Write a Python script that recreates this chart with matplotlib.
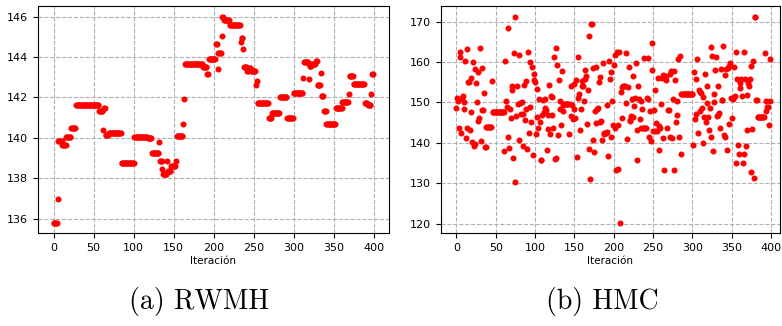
import numpy as np
import matplotlib
matplotlib.use("Agg")
import matplotlib.pyplot as plt

# cadena RWMH (valores constantes por tramos: valor y numero de iteraciones)
rwmh_values = [135.8, 137.0, 139.85, 139.65, 140.05, 140.5, 141.6, 141.35, 140.4, 141.5,
               140.15, 140.22, 138.75, 140.02, 139.98, 139.25, 139.8, 138.85, 138.45, 138.2,
               138.85, 138.35, 138.6, 138.85, 140.1, 140.7, 141.9, 143.63, 143.5, 143.18,
               143.9, 144.65, 143.42, 144.2, 145.05, 146.0, 145.85, 145.58, 144.73, 144.92,
               144.38, 143.52, 143.3, 143.47, 143.3, 142.6, 142.8, 141.7, 140.98, 141.22,
               142.02, 141.0, 142.23, 142.97, 143.73, 142.93, 143.57, 143.67, 143.8, 142.6,
               143.23, 142.05, 141.32, 140.7, 141.48, 141.79, 142.17, 143.06, 142.67, 141.73,
               141.6, 142.18, 143.18]
rwmh_counts = [5, 1, 5, 5, 6, 6, 29, 5, 1, 2,
               4, 16, 16, 17, 5, 9, 1, 3, 1, 5,
               1, 4, 6, 1, 8, 1, 1, 23, 5, 2,
               9, 2, 1, 4, 1, 2, 7, 14, 1, 2,
               1, 4, 2, 3, 6, 1, 1, 14, 4, 10,
               9, 8, 12, 1, 6, 1, 3, 5, 2, 4,
               1, 3, 3, 12, 8, 8, 1, 5, 14, 4,
               4, 1, 2]

# cadena HMC
hmc_values = (
    [148.6, 151.1, 150.4, 143.8, 162.5, 161.2, 142.4, 151.1, 151.7, 150.1,
     148.5, 160.2, 141.3, 163.3, 143.8, 155.0, 155.0, 143.3, 147.6, 156.1,
     140.1, 160.0, 139.3, 158.4, 139.6, 154.9, 150.1, 157.5, 145.5, 146.2,
     163.5, 140.5, 158.6, 148.1, 148.2, 152.3, 138.9, 138.9, 144.0, 144.0]
    + [144.0] * 5 + [155.4] + [147.6] * 15
    + [138.1, 160.3, 150.4, 149.0, 141.5, 168.4, 138.7, 148.5, 146.2,
       153.0, 154.2, 136.2, 162.3, 130.4, 171.3, 146.7, 154.0, 149.6, 161.8,
       140.6, 149.8, 147.2, 150.0, 139.3, 147.1, 154.4, 145.7, 148.5, 155.4,
       138.6, 162.5, 142.4, 148.9, 160.1, 145.2, 158.9, 137.0, 157.0, 155.5,
       155.1, 142.3, 146.5, 153.4, 143.6, 150.9, 145.2, 135.8, 135.8, 146.8,
       150.7, 147.6, 150.9, 148.6, 148.2, 138.2, 147.0, 143.5, 154.4, 142.3,
       151.7, 147.0, 151.4, 143.8, 161.3, 136.0, 163.5, 136.3, 159.4, 141.9,
       155.6, 150.3, 148.5, 144.4, 157.9, 149.5, 147.8]
    + [149.6] * 6
    + [142.2, 149.6, 154.1, 146.6, 149.4, 146.0, 154.6,
       148.4, 146.2, 155.6, 136.5, 161.3, 151.0, 152.1, 143.3, 148.5, 155.2,
       154.1, 154.0, 150.4, 155.8, 158.0, 156.5, 144.6, 153.0, 138.6, 166.4,
       131.1, 169.5, 169.5, 140.8, 158.5, 137.7, 147.8, 158.9, 144.8, 148.4,
       148.6, 155.0, 156.3, 145.1, 145.3, 140.6, 159.9, 142.3, 142.4, 142.5,
       142.4, 142.8, 149.4, 136.7, 160.2, 155.9, 141.5, 157.5, 150.3, 144.3,
       159.4, 143.8, 161.8, 133.2, 162.5, 144.5, 133.4, 162.4, 120.2, 152.7,
       153.8, 146.2, 154.0, 154.0, 154.0, 149.9, 162.2, 141.0, 153.8, 158.8,
       145.3, 145.7, 146.6, 150.9, 146.5, 156.5, 149.2, 151.1, 159.9, 135.8,
       143.1, 154.2, 150.9, 146.0, 150.3, 143.8, 148.4, 143.8, 161.0, 143.8,
       143.8, 143.8, 151.1, 150.9, 161.0, 141.5, 148.0, 140.4, 164.7, 158.0,
       142.9, 148.1, 142.9, 153.1, 144.9, 142.9, 156.0, 138.2, 144.1, 143.8,
       149.6, 156.0, 156.7, 141.2, 133.2, 156.0, 156.6, 155.5, 143.8, 148.2,
       148.2, 157.1, 141.5, 157.9, 141.1, 150.9, 157.7, 133.2, 155.6, 145.1,
       147.0, 150.4, 160.8, 141.5, 161.4, 137.3]
    + [152.2] * 15
    + [139.4, 157.5, 145.9, 155.9, 147.2, 160.8, 142.4, 153.2, 152.5,
       147.8, 152.3, 148.6, 140.0, 151.4, 146.4, 157.1, 145.1, 154.0, 149.9,
       146.4, 143.3, 148.6, 163.7, 141.5, 161.4, 137.9, 152.2, 150.0, 158.0,
       161.3, 146.6, 154.2, 147.0, 147.4, 143.7, 158.4, 150.7, 150.5, 163.9,
       141.9, 141.5, 156.9, 158.3, 138.2, 158.5, 159.1, 144.7, 159.8, 151.0,
       146.2, 150.9, 151.1, 158.9, 151.5, 134.9, 162.4, 155.9, 139.4, 137.2,
       153.7, 154.8, 155.8, 151.7, 134.9, 162.4, 137.3, 155.9, 139.3, 143.3,
       151.9, 154.8, 154.2, 155.9, 159.1, 132.9, 143.4, 160.2, 131.4, 171.3,
       171.3, 150.5, 150.5]
    + [146.4] * 9
    + [162.2, 147.8, 150.4, 149.0, 149.0, 144.3, 150.4, 160.8]
)

rwmh = np.repeat(rwmh_values, rwmh_counts)
hmc = np.array(hmc_values)

fig = plt.figure(figsize=(7.82, 3.26), dpi=100)
ax1 = fig.add_axes([0.0482, 0.285, 0.449, 0.696])
ax2 = fig.add_axes([0.5636, 0.285, 0.4335, 0.696])

for ax, chain in [(ax1, rwmh), (ax2, hmc)]:
    ax.scatter(np.arange(len(chain)), chain, s=11, color='red', zorder=3)
    ax.grid(True, linestyle='--', color='#b0b0b0', linewidth=0.8)
    ax.set_axisbelow(True)
    ax.set_xticks(np.arange(0, 401, 50))
    ax.tick_params(labelsize=8)
    ax.set_xlabel('Iteración', fontsize=7.5, labelpad=2)

ax1.set_yticks(np.arange(136, 147, 2))
ax2.set_yticks(np.arange(120, 171, 10))
ax2.set_xlim(-20, 411)

fig.text(0.254, 0.075, '(a) RWMH', fontsize=20, family='cmr10', ha='center', va='center')
fig.text(0.770, 0.075, '(b) HMC', fontsize=20, family='cmr10', ha='center', va='center')

fig.savefig('out.png', dpi=100)
